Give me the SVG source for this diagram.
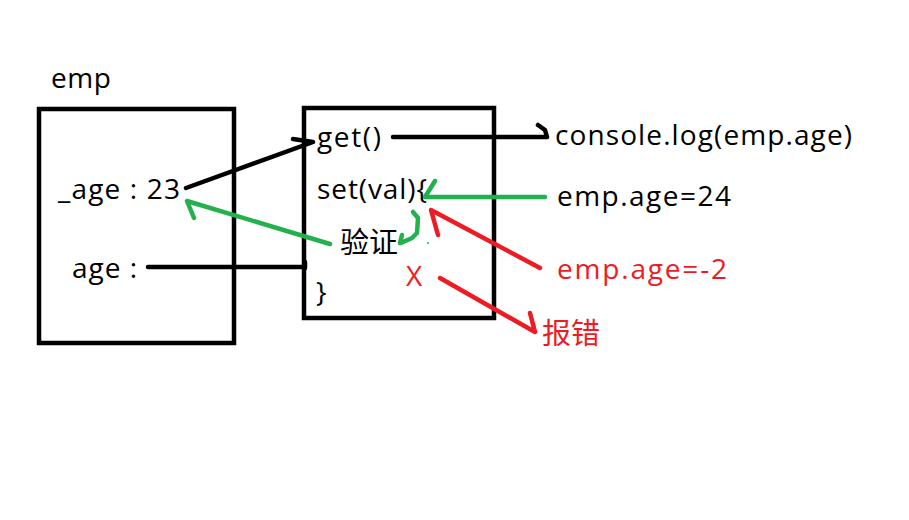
<svg xmlns="http://www.w3.org/2000/svg" width="909" height="520" viewBox="0 0 909 520">
<style>
text{font-family:"Open Sans","Noto Sans CJK SC",sans-serif;font-size:28px;fill:#000}
.cjk{font-family:"Noto Sans CJK SC",sans-serif;font-size:29px}
.r{fill:#ed1c24}
.box{fill:none;stroke:#000;stroke-width:4.5}
.k{fill:none;stroke:#000;stroke-width:4.5;stroke-linecap:round;stroke-linejoin:round}
.g{fill:none;stroke:#22b14c;stroke-width:4.5;stroke-linecap:round;stroke-linejoin:round}
.rd{fill:none;stroke:#ed1c24;stroke-width:4.5;stroke-linecap:round;stroke-linejoin:round}
</style>
<rect width="909" height="520" fill="#fff"/>
<g id="emp">
<text x="51" y="88" textLength="60">emp</text>
<rect class="box" x="39" y="109" width="195" height="234"/>
<text x="58" y="199" textLength="122">_age : 23</text>
<text x="72" y="278" textLength="65">age :</text>
</g>
<g id="accessor">
<rect class="box" x="304" y="108" width="190" height="210"/>
<text x="317" y="147" textLength="64">get()</text>
<text x="317" y="199" textLength="110">set(val){</text>
<text x="340" y="253" class="cjk" textLength="58">验证</text>
<text x="406" y="286" class="r">X</text>
<text x="316" y="302">}</text>
</g>
<g id="console"><text x="555" y="145" textLength="297">console.log(emp.age)</text></g>
<g id="set24"><text x="557" y="206" textLength="174">emp.age=24</text></g>
<g id="setneg"><text x="557" y="279" textLength="170" class="r">emp.age=-2</text></g>
<g id="error"><text x="542" y="344" textLength="58" class="r cjk">报错</text></g>
<g id="connectors">
<path class="k" d="M186 188 L313 142 M293 139 L313 142"/>
<path class="k" d="M393 137 L547 137 M538 125 L545 130 L547 137"/>
<path class="k" d="M148 267 L305 267 M305 262 L305 268"/>
<path class="g" d="M545 197 L425 197 L435 181"/>
<path class="g" d="M330 244 L187 201 L194 218"/>
<path class="g" d="M413 212 L418 218 L417 233 L412 238 L403 242 L400 243 M402 235 L400 243"/>
<circle cx="428" cy="243" r="1" fill="#22b14c"/>
<path class="rd" d="M540 268 L431 210 L438 235"/>
<path class="rd" d="M440 278 L535 332 L530 313"/>
</g>
</svg>
